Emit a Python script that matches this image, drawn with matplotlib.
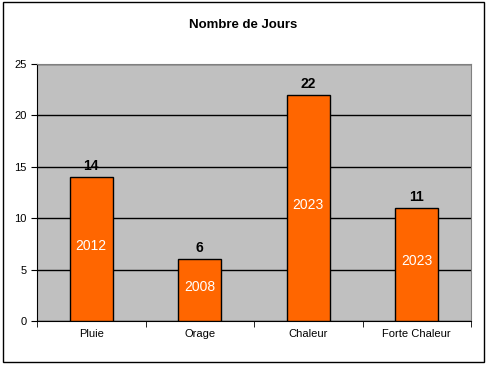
import numpy as np
import matplotlib.pyplot as plt
from matplotlib.patches import Rectangle

plt.rcParams["font.family"] = ["Liberation Sans", "DejaVu Sans"]

categories = ["Pluie", "Orage", "Chaleur", "Forte Chaleur"]
jours = [14, 6, 22, 11]
annees = ["2012", "2008", "2023", "2023"]

fig = plt.figure(figsize=(4.87, 3.65), dpi=100)
ax = fig.add_axes([37 / 487, 1 - 321 / 365, (471 - 37) / 487, (321 - 64) / 365])

# cadre autour du graphique
fig.patches.append(
    Rectangle((3 / 487, 3 / 365), 481 / 487, 360 / 365, transform=fig.transFigure,
              fill=False, edgecolor="black", linewidth=1)
)

ax.set_facecolor("#C0C0C0")
x = np.arange(len(categories))
ax.bar(x, jours, width=0.4, color="#FF6600", edgecolor="black", linewidth=1, zorder=3)

for xi, v, a in zip(x, jours, annees):
    ax.text(xi, v + 0.4, str(v), ha="center", va="bottom", fontsize=10, fontweight="bold", zorder=4)
    ax.text(xi, v / 2 + 0.3, a, ha="center", va="center", fontsize=10, color="white", zorder=4)

ax.set_xlim(-0.5, len(categories) - 0.5)
ax.set_ylim(0, 25)
ax.set_yticks(range(0, 26, 5))
ax.yaxis.grid(True, color="black", linewidth=1)
ax.set_axisbelow(True)

ax.set_xticks(x)
ax.set_xticklabels(categories, fontsize=8)
ax.set_xticks(np.arange(-0.5, len(categories), 1), minor=True)
ax.tick_params(axis="x", which="major", length=0, pad=6)
ax.tick_params(axis="x", which="minor", length=4, direction="out")
ax.tick_params(axis="y", labelsize=8, length=4, direction="out")

ax.spines["top"].set_color("#808080")
ax.spines["right"].set_color("#808080")

fig.text(0.5, 1 - 25 / 365, "Nombre de Jours", ha="center", va="center", fontsize=9.5, fontweight="bold")

fig.savefig("out.png", dpi=100)
